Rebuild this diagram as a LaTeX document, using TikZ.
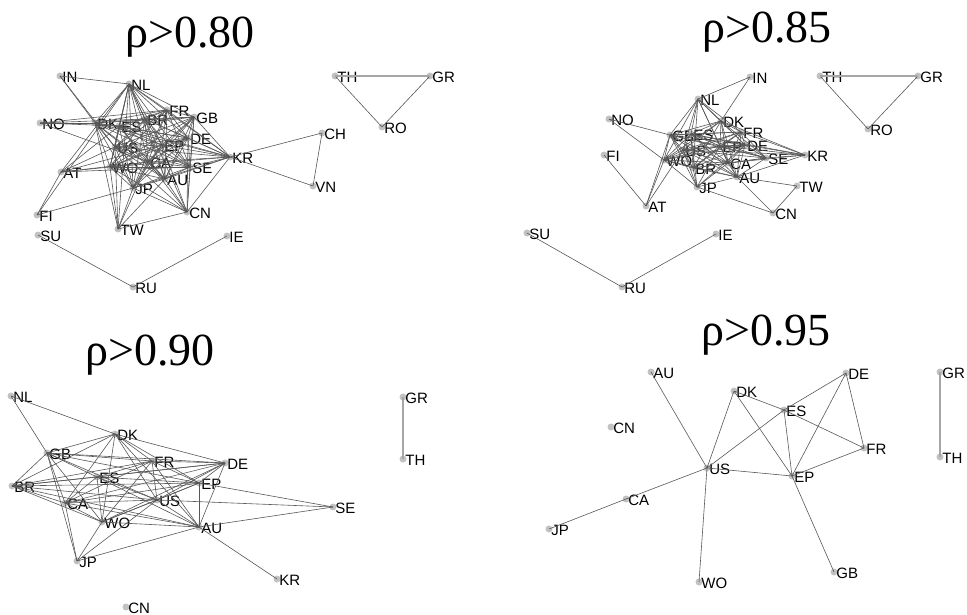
\documentclass[tikz,border=0pt]{standalone}
\usepackage{fontspec}
\setmainfont{Liberation Serif}
\newfontfamily\labfont{Liberation Sans}
\tikzset{
  dot/.style={circle, fill=black!24, draw=none, minimum size=7pt, inner sep=0pt},
  lab/.style={font=\labfont\fontsize{15}{15}\selectfont, text=black, inner sep=0pt,
              text height=10.7pt, text depth=0pt, label distance=-1.5pt, yshift=-1.5pt},
  edge/.style={draw=black!66, line width=0.6pt},
  pale/.style={draw=black!35, line width=1.1pt},
  heading/.style={font=\fontsize{46}{50}\selectfont, anchor=base, inner sep=0pt}
}
% country vertex: name, x, y, label
\newcommand\cty[4]{\node[dot, label={[lab]0:#4}] (#1) at (#2,#3) {};}
% every pair of a list of vertices (prefix, list)
\newcommand\fullmesh[2]{%
  \foreach \u [count=\i] in {#2} {%
    \foreach \v [count=\j] in {#2} {%
      \ifnum\j>\i \draw[edge] (#1\u.center) -- (#1\v.center);\fi}}}
% list of links (prefix, list of a/b)
\newcommand\links[2]{%
  \foreach \u/\v in {#2} {\draw[edge] (#1\u.center) -- (#1\v.center);}}
\begin{document}
\begin{tikzpicture}[x=1pt, y=-1pt]
\useasboundingbox (0,0) rectangle (967,615);

% headings
\node[heading] (h1) at (190,48) {ρ>0.80};
\node[heading] (h2) at (767,43) {ρ>0.85};
\node[heading] (h3) at (150,365) {ρ>0.90};
\node[heading] (h4) at (766,345) {ρ>0.95};

% ---------- rho > 0.80 ----------
\cty{aIN}{60}{76}{IN}   \cty{aNL}{129}{84}{NL}  \cty{aFR}{167}{110}{FR}
\cty{aGB}{194}{117}{GB} \cty{aNO}{40}{123}{NO}  \cty{aDK}{95}{123}{DK}
\cty{aES}{119}{126}{ES} \cty{aBR}{145}{119}{BR} \cty{aDE}{188}{138}{DE}
\cty{aUS}{115}{147}{US} \cty{aEP}{162}{145}{EP} \cty{aCA}{148}{162}{CA}
\cty{aWO}{110}{167}{WO} \cty{aAT}{61}{172}{AT}  \cty{aSE}{190}{167}{SE}
\cty{aKR}{230}{157}{KR} \cty{aAU}{165}{179}{AU} \cty{aJP}{133}{188}{JP}
\cty{aCH}{322}{133}{CH} \cty{aVN}{313}{186}{VN} \cty{aFI}{37}{215}{FI}
\cty{aCN}{187}{212}{CN} \cty{aTW}{118}{229}{TW} \cty{aSU}{38}{235}{SU}
\cty{aIE}{227}{236}{IE} \cty{aRU}{133}{287}{RU} \cty{aTH}{335}{76}{TH}
\cty{aGR}{430}{76}{GR}  \cty{aRO}{382}{127}{RO}

\fullmesh{a}{DK,ES,BR,FR,GB,DE,US,EP,CA,WO,SE,AU,JP,NL}
\links{a}{IN/NL, IN/DK, IN/US, NO/DK, NO/ES, NO/BR, NO/FR, NO/CA,
  AT/NL, AT/ES, AT/US, AT/WO, AT/CA, AT/SE, AT/EP, AT/FI, FI/NL, FI/JP,
  KR/GB, KR/DE, KR/EP, KR/SE, KR/AU, KR/CA, KR/US, KR/WO, KR/DK, KR/ES,
  KR/BR, KR/FR, KR/NL, KR/JP, KR/CN, KR/CH, KR/VN, CH/VN,
  CN/DE, CN/SE, CN/AU, CN/JP, CN/WO, CN/CA, CN/EP, CN/US, CN/GB, CN/NL, CN/TW,
  TW/JP, TW/WO, TW/US, TW/NL, TW/AU, TW/CA, TW/DK,
  SU/RU, RU/IE, TH/RO, GR/RO}
\draw[pale] (aTH.center) -- (aGR.center);

% ---------- rho > 0.85 ----------
\cty{bIN}{750}{77}{IN}  \cty{bNL}{698}{99}{NL}  \cty{bNO}{609}{119}{NO}
\cty{bDK}{721}{121}{DK} \cty{bGB}{670}{135}{GB} \cty{bES}{691}{134}{ES}
\cty{bFR}{741}{132}{FR} \cty{bUS}{683}{150}{US} \cty{bEP}{720}{146}{EP}
\cty{bDE}{745}{145}{DE} \cty{bKR}{805}{155}{KR} \cty{bFI}{604}{155}{FI}
\cty{bWO}{664}{160}{WO} \cty{bSE}{766}{158}{SE} \cty{bCA}{728}{163}{CA}
\cty{bBR}{693}{168}{BR} \cty{bAU}{737}{177}{AU} \cty{bTW}{797}{186}{TW}
\cty{bJP}{697}{187}{JP} \cty{bAT}{646}{206}{AT} \cty{bCN}{773}{213}{CN}
\cty{bSU}{527}{233}{SU} \cty{bIE}{716}{234}{IE} \cty{bRU}{622}{287}{RU}
\cty{bTH}{820}{76}{TH}  \cty{bGR}{918}{76}{GR}  \cty{bRO}{868}{129}{RO}

\fullmesh{b}{GB,ES,DK,FR,US,EP,DE,SE,CA,BR,AU}
\links{b}{IN/NL, IN/DK, NO/GB, NO/WO, FI/AT, AT/WO, AT/GB, AT/US,
  NL/GB, NL/WO, NL/DK, NL/ES, NL/US, NL/EP, NL/FR, NL/DE, NL/CA, NL/BR,
  KR/DK, KR/FR, KR/DE, KR/EP, KR/SE, KR/CA, KR/ES, KR/AU, KR/US,
  TW/AU, TW/CN, CN/JP, CN/AU,
  JP/AU, JP/WO, JP/US, JP/BR, JP/CA, JP/EP, JP/ES, JP/GB, JP/DE,
  WO/GB, WO/US, WO/ES, WO/BR, WO/EP, WO/CA, WO/DK, WO/FR, WO/DE, WO/AU,
  SU/RU, RU/IE, TH/RO, GR/RO}
\draw[pale] (bTH.center) -- (bGR.center);

% ---------- rho > 0.90 ----------
\cty{cNL}{11}{396}{NL}  \cty{cDK}{115}{434}{DK} \cty{cGB}{47}{453}{GB}
\cty{cFR}{152}{461}{FR} \cty{cDE}{225}{463}{DE} \cty{cES}{97}{477}{ES}
\cty{cBR}{12}{486}{BR}  \cty{cEP}{199}{483}{EP} \cty{cCA}{65}{503}{CA}
\cty{cUS}{157}{500}{US} \cty{cSE}{333}{507}{SE} \cty{cWO}{102}{522}{WO}
\cty{cAU}{199}{527}{AU} \cty{cJP}{77}{561}{JP}  \cty{cKR}{277}{579}{KR}
\cty{cCN}{126}{607}{CN} \cty{cGR}{403}{397}{GR} \cty{cTH}{403}{459}{TH}

\links{c}{NL/DK, NL/GB,
  DK/GB, DK/BR, DK/CA, DK/WO, DK/FR, DK/DE, DK/EP, DK/US, DK/AU,
  GB/FR, GB/DE, GB/EP, GB/BR, GB/CA, GB/US, GB/WO, GB/JP, GB/ES,
  FR/DE, FR/BR, FR/ES, FR/CA, FR/US, FR/EP, FR/WO, FR/AU,
  DE/BR, DE/ES, DE/CA, DE/EP, DE/US, DE/AU, DE/WO,
  ES/BR, ES/EP, ES/US, ES/AU, ES/CA, ES/WO,
  BR/EP, BR/CA, BR/US, BR/WO, BR/AU,
  EP/CA, EP/US, EP/AU, EP/SE, EP/WO,
  CA/US, CA/AU, CA/WO, CA/JP,
  US/AU, US/SE, US/WO, US/JP,
  AU/SE, AU/WO, AU/JP, AU/KR, WO/JP}
\draw[pale] (cGR.center) -- (cTH.center);

% ---------- rho > 0.95 ----------
\cty{dAU}{651}{372}{AU} \cty{dDK}{734}{391}{DK} \cty{dDE}{846}{373}{DE}
\cty{dES}{784}{410}{ES} \cty{dCN}{611}{427}{CN} \cty{dFR}{864}{448}{FR}
\cty{dUS}{707}{468}{US} \cty{dEP}{792}{476}{EP} \cty{dCA}{626}{499}{CA}
\cty{dJP}{549}{529}{JP} \cty{dWO}{699}{582}{WO} \cty{dGB}{834}{572}{GB}
\cty{dGR}{940}{372}{GR} \cty{dTH}{940}{457}{TH}

\links{d}{AU/US, DK/US, DK/ES, DK/EP, ES/US, ES/DE, ES/FR, ES/EP,
  DE/EP, DE/FR, FR/EP, US/EP, US/CA, CA/JP, US/WO, EP/GB}
\draw[pale] (dGR.center) -- (dTH.center);
\end{tikzpicture}
\end{document}
